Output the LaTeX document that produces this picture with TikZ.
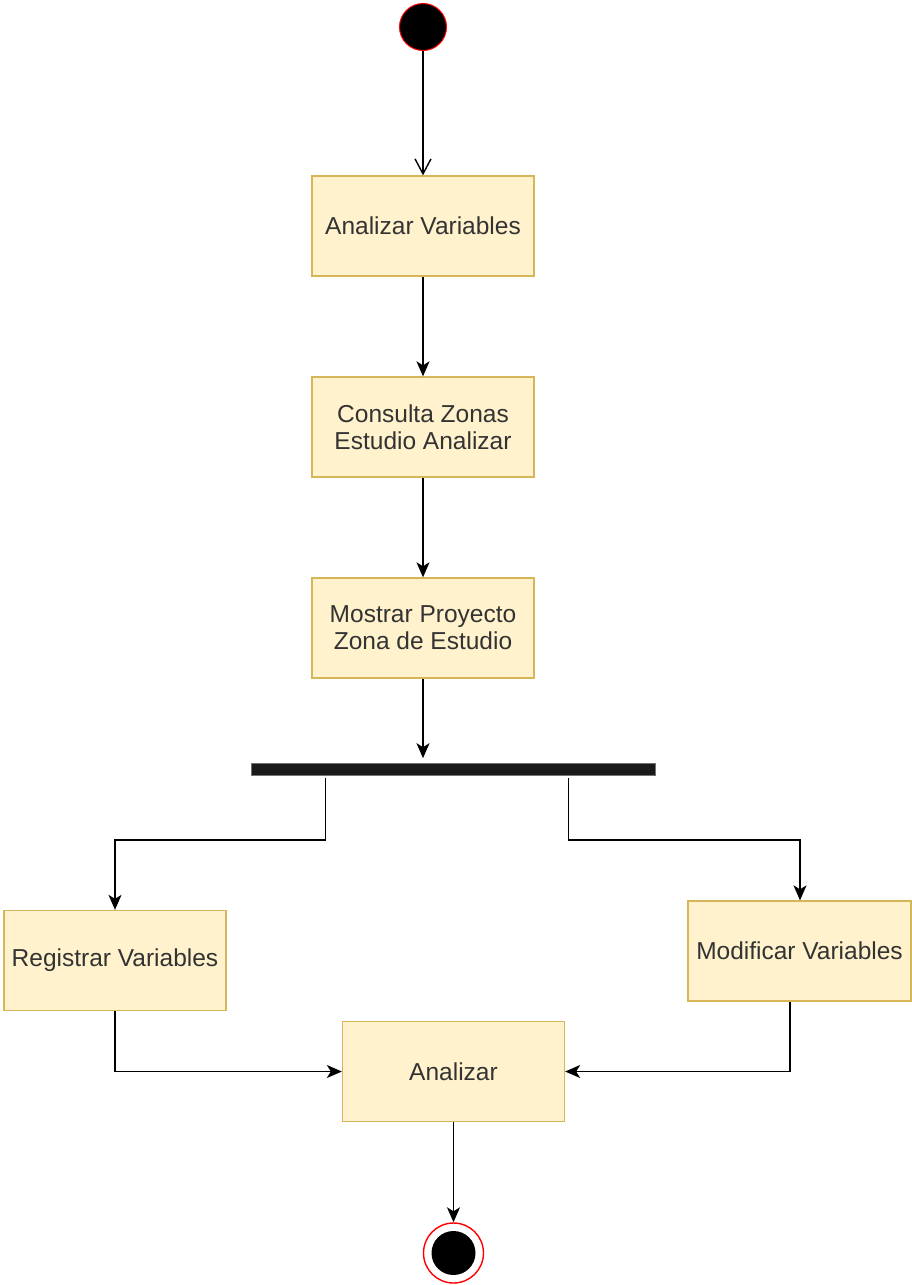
\documentclass[tikz,border=0pt]{standalone}
\usepackage{fontspec}
\setmainfont{Liberation Sans}
\usetikzlibrary{arrows.meta,calc}
\definecolor{boxfill}{HTML}{FFF2CC}
\definecolor{boxline}{HTML}{D6B656}
\definecolor{txt}{HTML}{333333}
\definecolor{barfill}{HTML}{1A1A1A}
\begin{document}
\begin{tikzpicture}[x=1pt,y=-1pt,
  activity/.style={draw=boxline,fill=boxfill,line width=1.3pt,minimum width=222pt,minimum height=100pt,
    inner sep=0pt,align=center,text=txt,font=\fontsize{24.5}{27}\selectfont},
  conn/.style={draw=black,line width=1.4pt,-{Stealth[length=15pt,width=13pt,inset=4pt]}},
  openconn/.style={draw=black,line width=1.4pt,-{Straight Barb[length=15pt,width=16pt,line width=1.4pt]}}]
\useasboundingbox (0,0) rectangle (911,1285);

% start and end states
\node[circle,fill=black,draw=red,line width=1pt,minimum size=47pt,inner sep=0pt] (start) at (423,27) {};
\node[circle,fill=white,draw=red,line width=1.4pt,minimum size=60pt,inner sep=0pt] (stop) at (453.5,1253) {};
\node[circle,fill=black,minimum size=44pt,inner sep=0pt] (stopdot) at (453.5,1253) {};

% activities
\node[activity] (a1) at (423,226) {Analizar Variables};
\node[activity] (a2) at (423,427) {Consulta Zonas\\Estudio Analizar};
\node[activity] (a3) at (423,628) {Mostrar Proyecto\\Zona de Estudio};
\node[activity] (reg) at (115,960.5) {Registrar Variables};
\node[activity,minimum width=223pt] (mod) at (799.5,951) {Modificar Variables};
\node[activity] (ana) at (453.5,1071.5) {Analizar};

% fork bar
\node[fill=barfill,draw=black!55,line width=0.6pt,minimum width=404pt,minimum height=12pt,inner sep=0pt] (bar) at (453,769.5) {};
\coordinate (barIn) at ($(bar.north)+(0,-5)$);
\coordinate (forkL) at ($(bar.south west)+(75,2)$);
\coordinate (forkR) at ($(bar.south east)+(-87,2)$);
\coordinate (regIn) at (reg.north);
\coordinate (modIn) at ($(mod.north)+(0.5,0)$);
\coordinate (modOut) at ($(mod.south)+(-9.5,0)$);

% flows
\draw[openconn] (start) -- (a1.north);
\draw[conn] (a1) -- (a2);
\draw[conn] (a2) -- (a3);
\draw[conn] (a3.south) -- (a3.south |- barIn);
\draw[conn] (forkL) -- ++(0,62) -| (regIn);
\draw[conn] (forkR) -- ++(0,62) -| (modIn);
\draw[conn] (reg.south) |- (ana.west);
\draw[conn] (modOut) |- (ana.east);
\draw[conn] (ana.south) -- (stop.north);
\end{tikzpicture}
\end{document}
